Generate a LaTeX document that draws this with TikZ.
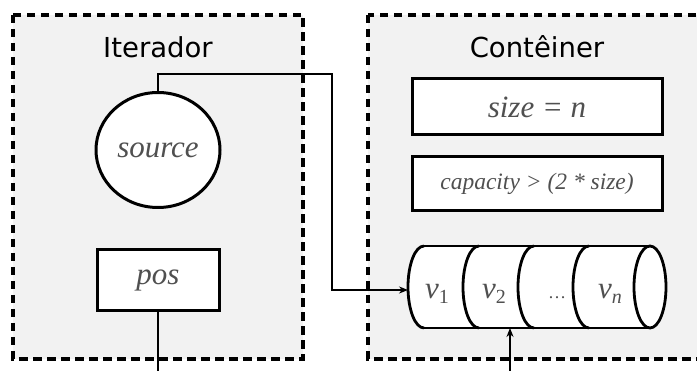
\documentclass[tikz,border=0pt]{standalone}
\usepackage{fontspec}
\setmainfont{Liberation Serif}
\newfontfamily\titlefont{DejaVu Sans}
\usetikzlibrary{arrows.meta,shapes.geometric}
\definecolor{panelgray}{RGB}{242,242,242}
\definecolor{labelgray}{RGB}{80,80,80}

\begin{document}
\begin{tikzpicture}[x=1pt,y=-1pt,
  panel/.style={draw=black, fill=panelgray, line width=3.2pt, dash pattern=on 8.5pt off 5.5pt},
  paneltitle/.style={font=\titlefont\fontsize{27.5}{32}\selectfont, text=black},
  field/.style={draw=black, fill=white, line width=3pt, inner sep=0pt},
  lbl/.style={text=labelgray, font=\fontsize{31}{36}\selectfont\itshape},
  cylline/.style={line width=2.8pt, draw=black},
  conn/.style={line width=1.8pt, draw=black},
  tip/.style={-{Stealth[length=9pt,width=7pt]}}]

\clip (0,0) rectangle (697,371);
\fill[white] (0,0) rectangle (697,371);

% the two dashed panels
\draw[panel] (13,15) rectangle (303,359);
\draw[panel] (368,15) rectangle (720,359);
\node[paneltitle] (ttlIt) at (158,47) {Iterador};
\node[paneltitle] (ttlCo) at (537,47) {Contêiner};

% iterator fields
\node[field, ellipse, minimum width=124pt, minimum height=115pt, lbl] (src) at (158,150) {source};
\node[field, minimum width=122pt, minimum height=61pt, lbl] (pos) at (158,280.5) {pos};

% container fields
\node[field, minimum width=250pt, minimum height=56pt, lbl] (size) at (537,107) {size = n};
\node[field, minimum width=250pt, minimum height=54pt, lbl, font=\fontsize{23.5}{28}\selectfont\itshape] (cap) at (537,184) {capacity > (2 * size)};

% storage cylinder
\node[minimum width=258pt, minimum height=82pt, inner sep=0pt] (cyl) at (537,287) {};
\fill[white] (424,246) -- (650,246) -- (650,328) -- (424,328) -- cycle;
\fill[white] (424,287) ellipse [x radius=16, y radius=41];
\draw[cylline] (424,246) -- (650,246);
\draw[cylline] (424,328) -- (650,328);
\foreach \cx in {424,479,534,589}
  \draw[cylline] (\cx,246) arc[start angle=-90, end angle=-270, x radius=16, y radius=41];
\draw[cylline, fill=white] (650,287) ellipse [x radius=16, y radius=41];

\node[lbl, anchor=base] (v1) at (437,299) {v\raisebox{-5pt}{\upshape\fontsize{20}{24}\selectfont 1}};
\node[lbl, anchor=base] (v2) at (494,299) {v\raisebox{-5pt}{\upshape\fontsize{20}{24}\selectfont 2}};
\node[lbl, anchor=base, font=\fontsize{18}{22}\selectfont] (vd) at (557,299) {\dots};
\node[lbl, anchor=base] (vn) at (610,299) {v\raisebox{-5pt}{\fontsize{20}{24}\selectfont n}};

% references from the iterator into the container
\coordinate (bend) at (332,74);
\coordinate (v1in) at (408,290);
\draw[conn, tip] (src.north) |- (bend) |- (v1in);
\coordinate (under) at (158,400);
\coordinate (v2in) at (510,328);
\draw[conn, tip] (pos.south) -- (under) -| (v2in);
\end{tikzpicture}
\end{document}
